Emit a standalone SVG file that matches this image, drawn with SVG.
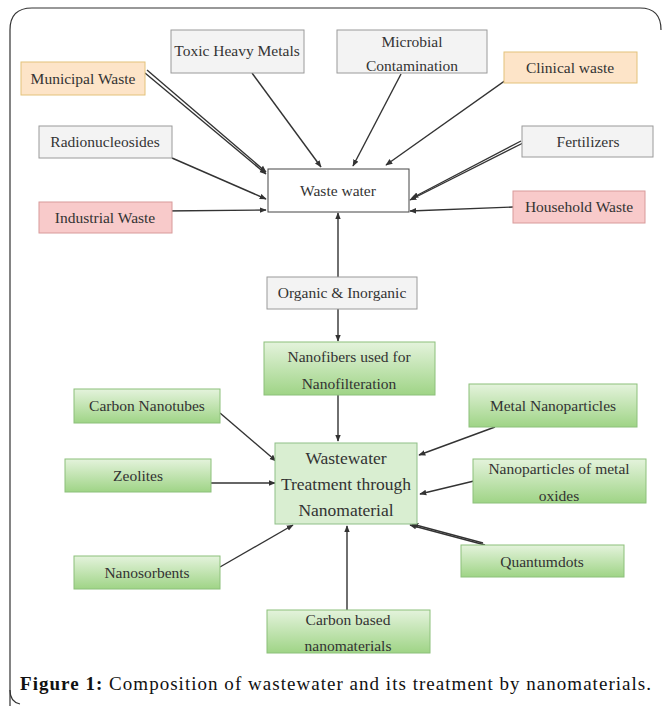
<svg xmlns="http://www.w3.org/2000/svg" width="662" height="706" viewBox="0 0 662 706">
<defs>
<linearGradient id="gg" x1="0" y1="0" x2="0" y2="1">
<stop offset="0" stop-color="#e4f3dc"/>
<stop offset="1" stop-color="#9fd486"/>
</linearGradient>
<marker id="ah" viewBox="0 0 10 10" refX="9" refY="5" markerWidth="7" markerHeight="7" orient="auto" markerUnits="userSpaceOnUse">
<path d="M0,1 L10,5 L0,9 Z" fill="#333"/>
</marker>
<style>
.t{font-family:"Liberation Serif","Times New Roman",serif;font-size:15.5px;fill:#333;text-anchor:middle}
.big{font-size:17.5px}
.gray{fill:#f3f3f3;stroke:#9a9a9a;stroke-width:1}
.org{fill:#fde4c8;stroke:#e3c27a;stroke-width:1}
.pink{fill:#f8caca;stroke:#d89a9a;stroke-width:1}
.grn{fill:url(#gg);stroke:#8cc07a;stroke-width:1}
.ww{fill:#ffffff;stroke:#444;stroke-width:1}
.tr{fill:#d9eed1;stroke:#8fbf88;stroke-width:1}
.c{fill:none;stroke:#333;stroke-width:1.4;marker-end:url(#ah)}
.cap{font-family:"Liberation Serif","Times New Roman",serif;font-size:19px;fill:#111}
</style>
</defs>
<rect x="0" y="0" width="662" height="706" fill="#ffffff"/>
<path d="M10,740 L10,30 Q10,8 32,8 L640,8 Q661,8 661,30" fill="none" stroke="#333" stroke-width="1.2"/>
<path d="M10,690 Q10,702 20,704" fill="none" stroke="#333" stroke-width="1.2"/>

<g id="connectors">
<path class="c" d="M145,73 L266,174"/>
<path class="c" d="M147,70 L266,172" stroke-width="0.8"/>
<path class="c" d="M252,73 L321,167"/>
<path class="c" d="M172,158 L266,199"/>
<path class="c" d="M163,211 L266,210"/>
<path class="c" d="M401,74 L353,166"/>
<path class="c" d="M513,75 L386,165"/>
<path class="c" d="M523,143 L410,200"/>
<path class="c" d="M521,141 L412,198" stroke-width="0.8"/>
<path class="c" d="M513,207 L410,211"/>
<path class="c" d="M338,277 L338,213"/>
<path class="c" d="M338,309 L338,341"/>
<path class="c" d="M338,395 L338,441"/>
<path class="c" d="M220,413 L276,461"/>
<path class="c" d="M211,483 L275,483"/>
<path class="c" d="M220,567 L293,525"/>
<path class="c" d="M495,427 L419,455"/>
<path class="c" d="M474,481 L420,494"/>
<path class="c" d="M485,545 L410,525"/>
<path class="c" d="M483,543 L412,524" stroke-width="0.8"/>
<path class="c" d="M347,610 L347,526"/>
</g>

<g id="toxic"><rect class="gray" x="171" y="30" width="133" height="43"/><text class="t" x="237" y="56">Toxic Heavy Metals</text></g>
<g id="municipal"><rect class="org" x="21" y="62" width="124" height="33"/><text class="t" x="83" y="84">Municipal Waste</text></g>
<g id="microbial"><rect class="gray" x="337" y="30" width="150" height="43"/><text class="t" x="412" y="47">Microbial</text><text class="t" x="412" y="71">Contamination</text></g>
<g id="clinical"><rect class="org" x="504" y="52" width="133" height="31"/><text class="t" x="570" y="73">Clinical waste</text></g>
<g id="radio"><rect class="gray" x="39" y="126" width="133" height="32"/><text class="t" x="105" y="147">Radionucleosides</text></g>
<g id="fertilizers"><rect class="gray" x="522" y="126" width="131" height="31"/><text class="t" x="588" y="147">Fertilizers</text></g>
<g id="wastewater"><rect class="ww" x="268" y="169" width="141" height="43"/><text class="t" x="338" y="196">Waste water</text></g>
<g id="industrial"><rect class="pink" x="39" y="202" width="133" height="31"/><text class="t" x="105" y="223">Industrial Waste</text></g>
<g id="household"><rect class="pink" x="513" y="191" width="132" height="32"/><text class="t" x="579" y="212">Household Waste</text></g>
<g id="organic"><rect class="gray" x="267" y="277" width="150" height="32"/><text class="t" x="342" y="298">Organic &amp; Inorganic</text></g>
<g id="nanofibers"><rect class="grn" x="264" y="342" width="171" height="53"/><text class="t" x="349" y="362">Nanofibers used for</text><text class="t" x="349" y="389">Nanofilteration</text></g>
<g id="cnt"><rect class="grn" x="74" y="389" width="146" height="34"/><text class="t" x="147" y="411">Carbon Nanotubes</text></g>
<g id="metalnp"><rect class="grn" x="469" y="384" width="168" height="43"/><text class="t" x="553" y="411">Metal Nanoparticles</text></g>
<g id="treatment"><rect class="tr" x="275" y="443" width="142" height="81"/><text class="t big" x="346" y="464">Wastewater</text><text class="t big" x="346" y="490">Treatment through</text><text class="t big" x="346" y="516">Nanomaterial</text></g>
<g id="zeolites"><rect class="grn" x="65" y="459" width="146" height="33"/><text class="t" x="138" y="481">Zeolites</text></g>
<g id="oxides"><rect class="grn" x="473" y="459" width="173" height="44"/><text class="t" x="559" y="474">Nanoparticles of metal</text><text class="t" x="559" y="501">oxides</text></g>
<g id="quantum"><rect class="grn" x="461" y="545" width="163" height="32"/><text class="t" x="542" y="567">Quantumdots</text></g>
<g id="nanosorbents"><rect class="grn" x="74" y="556" width="146" height="33"/><text class="t" x="147" y="578">Nanosorbents</text></g>
<g id="carbonbased"><rect class="grn" x="267" y="610" width="163" height="43"/><text class="t" x="348" y="625">Carbon based</text><text class="t" x="348" y="651">nanomaterials</text></g>

<text class="cap" x="20" y="690" textLength="631" lengthAdjust="spacing"><tspan font-weight="bold">Figure 1:</tspan> Composition of wastewater and its treatment by nanomaterials.</text>
</svg>
